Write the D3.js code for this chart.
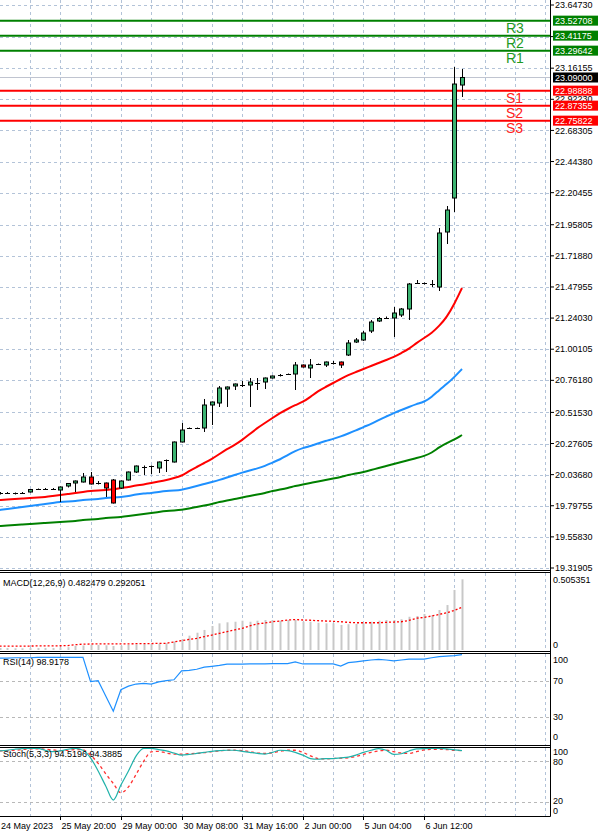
<!DOCTYPE html>
<html><head><meta charset="utf-8">
<script src="https://cdn.jsdelivr.net/npm/d3@7"></script>
<style>html,body{margin:0;padding:0;background:#fff;} svg{display:block;font-family:"Liberation Sans",Arial,sans-serif;}</style>
</head><body><svg id="c" width="600" height="838"></svg>
<script>
// ---- data ----
const opens=[19.8918,19.8956,19.8918,19.8956,19.9033,19.9225,19.9264,19.9264,19.9187,19.9494,19.9725,19.9802,20.0186,19.9687,19.9725,19.9956,19.9341,19.9956,20.0570,20.1032,20.0993,20.0878,20.1455,20.1339,20.2877,20.3915,20.3953,20.3953,20.5721,20.5875,20.6952,20.7182,20.7336,20.7259,20.7412,20.7489,20.7797,20.7951,20.8066,20.8104,20.8796,20.8566,20.8835,20.8796,20.8950,20.9027,20.9565,21.0565,21.0718,21.1410,21.2179,21.2410,21.2410,21.2640,21.3102,21.5062,21.5023,21.5100,21.4793,21.9021,22.1634,23.0321];
const highs=[19.9033,19.9033,19.8995,19.9033,19.9264,19.9302,19.9341,19.9341,19.9456,19.9725,19.9917,20.0494,20.0570,19.9879,19.9763,20.0032,19.9917,20.0609,20.1070,20.1070,20.1070,20.1378,20.1532,20.2915,20.4337,20.3992,20.3992,20.6183,20.5990,20.7182,20.7144,20.7374,20.7566,20.7797,20.7797,20.7835,20.7989,20.8104,20.8143,20.9027,20.8835,20.9257,20.8912,20.9065,20.9104,20.9065,21.0718,21.0872,21.1410,21.2256,21.2486,21.2525,21.3255,21.3178,21.5100,21.5331,21.5139,21.5331,21.9328,22.1020,23.1705,23.1552];
const lows=[19.8841,19.8880,19.8841,19.8880,19.8995,19.9187,19.9187,19.9225,19.8264,19.9379,19.9033,19.9763,19.9610,19.9610,19.8649,19.8149,19.9264,19.9917,20.0494,20.0340,20.0416,20.0494,20.0570,20.1301,20.2838,20.3876,20.3915,20.3646,20.4184,20.5568,20.5568,20.6874,20.7105,20.5568,20.6874,20.6952,20.7759,20.7912,20.8027,20.6874,20.8604,20.7797,20.8796,20.8642,20.8835,20.8566,20.9488,21.0488,21.0641,21.1256,21.2102,21.2333,21.0949,21.2486,21.2256,21.5023,21.4985,21.4793,21.4485,21.8098,22.0558,22.9399];
const closes=[19.8956,19.8918,19.8956,19.8956,19.9225,19.9264,19.9264,19.9302,19.9418,19.9687,19.9879,20.0186,19.9648,19.9725,19.9341,19.8188,19.9879,20.0570,20.1032,20.0993,20.1032,20.1339,20.1493,20.2877,20.3799,20.3953,20.3953,20.5721,20.5952,20.7029,20.7105,20.7336,20.7297,20.7489,20.7412,20.7797,20.7951,20.8066,20.8104,20.8796,20.8642,20.8796,20.8873,20.9027,20.8950,20.8796,21.0488,21.0718,21.1256,21.2102,21.2371,21.2448,21.2794,21.3102,21.5023,21.5100,21.5100,21.5062,21.8944,22.0712,23.0398,23.0900];
const maRed=[19.8418,19.8457,19.8495,19.8533,19.8572,19.8610,19.8649,19.8726,19.8802,19.8879,19.8956,19.9033,19.9110,19.9148,19.9187,19.9225,19.9341,19.9418,19.9533,19.9610,19.9725,19.9840,19.9956,20.0109,20.0263,20.0648,20.0955,20.1263,20.1570,20.1954,20.2339,20.2646,20.3031,20.3492,20.3953,20.4338,20.4722,20.5106,20.5414,20.5721,20.5952,20.6336,20.6798,20.7105,20.7413,20.7720,20.8028,20.8258,20.8489,20.8720,20.8950,20.9181,20.9411,20.9719,21.0026,21.0488,21.0872,21.1256,21.1795,21.2486,21.3486,21.4716];
const maBlue=[19.7649,19.7726,19.7803,19.7880,19.7957,19.8034,19.8111,19.8187,19.8264,19.8303,19.8341,19.8418,19.8457,19.8495,19.8572,19.8610,19.8649,19.8726,19.8841,19.8918,19.8956,19.9033,19.9110,19.9148,19.9187,19.9341,19.9494,19.9648,19.9802,19.9956,20.0148,20.0340,20.0532,20.0686,20.0840,20.1032,20.1301,20.1532,20.1878,20.2185,20.2416,20.2569,20.2762,20.2954,20.3108,20.3300,20.3530,20.3761,20.4030,20.4261,20.4568,20.4837,20.5106,20.5337,20.5568,20.5798,20.5952,20.6336,20.6874,20.7336,20.7874,20.8489];
const maGreen=[19.6419,19.6458,19.6496,19.6535,19.6573,19.6611,19.6650,19.6688,19.6727,19.6765,19.6804,19.6881,19.6919,19.6957,19.7034,19.7073,19.7111,19.7188,19.7265,19.7342,19.7419,19.7496,19.7572,19.7611,19.7649,19.7765,19.7880,19.7995,19.8111,19.8264,19.8380,19.8495,19.8610,19.8726,19.8841,19.8956,19.9110,19.9225,19.9341,19.9494,19.9610,19.9725,19.9840,19.9956,20.0071,20.0186,20.0340,20.0455,20.0571,20.0724,20.0878,20.1032,20.1186,20.1339,20.1493,20.1647,20.1801,20.2031,20.2493,20.2800,20.3069,20.3415];
const macdMain=[0.014,0.014,0.012,0.012,0.014,0.014,0.014,0.014,0.017,0.019,0.029,0.031,0.036,0.034,0.032,0.027,0.029,0.034,0.038,0.040,0.040,0.043,0.046,0.058,0.073,0.098,0.118,0.137,0.164,0.182,0.189,0.193,0.200,0.193,0.200,0.205,0.205,0.200,0.205,0.205,0.193,0.193,0.186,0.182,0.182,0.171,0.176,0.178,0.182,0.193,0.200,0.205,0.205,0.210,0.227,0.232,0.246,0.239,0.273,0.307,0.410,0.482479];
const macdSignal=[0.027,0.027,0.027,0.027,0.027,0.028,0.028,0.028,0.029,0.030,0.036,0.040,0.041,0.042,0.042,0.042,0.042,0.042,0.043,0.043,0.044,0.045,0.046,0.055,0.064,0.072,0.080,0.091,0.102,0.114,0.125,0.137,0.148,0.164,0.178,0.184,0.193,0.198,0.205,0.208,0.205,0.203,0.200,0.198,0.196,0.193,0.189,0.186,0.186,0.186,0.186,0.189,0.191,0.193,0.202,0.217,0.223,0.232,0.243,0.255,0.270,0.292051];
const rsi=[95,95,95.5,95.5,95.5,96,96,96,96,96,96,96,69,70,53,36,60,64,66.3,67,66.3,68.6,70,71,81,81.5,82.7,85,86,87,88.5,88.5,88.5,88.8,88.8,88.8,89,89,89,91,88.6,88.6,88.6,88.6,88.6,86.3,90,91,92,93,93.8,93,92,93,94,94,94,95.5,96.7,97.3,97.8,98.9178];
const stochMain=[94,95,96.5,97.5,97.7,97.7,95,93,94,96.5,97.7,95,84,65,43.4,23,44.7,65,86.6,97.7,97.7,96,94,91,88,89,90.5,92,93.5,94.5,95,95,93.5,92,90.5,89.5,92,95,94.5,92,88,83,82,83,83,84,85,88,92,95,97.5,95,89,90,94,97,97.5,97.7,97.7,97,95.5,94.5196];
const stochSignal=[94,94.5,95,96,97,97,96.5,95.5,94.5,95,96,95.5,88,76,61,47,33.6,42,60,79,92.8,93.5,91,89.5,89.5,90,90.5,91.5,93,94,95,95,94.5,93,91,90.5,91.5,93.5,95,95,92,87,83,82.5,83,83.5,84,86,89,92,94,95,93,91,90.5,93,95.5,96.3,96.5,96,95,94.3885];
const priceTicks=[23.64730,23.40440,23.16155,22.92230,22.68305,22.44380,22.20455,21.95805,21.71880,21.47955,21.24030,21.00105,20.76180,20.51530,20.27605,20.03680,19.79755,19.55830,19.31905];
const pivotNames=["R3","R2","R1","S1","S2","S3"];
const pivotValues=[23.52708,23.41175,23.29642,22.98888,22.87355,22.75822];
const lastPrice=23.09000;
const timeLabels=["24 May 2023","25 May 20:00","29 May 00:00","30 May 08:00","31 May 16:00","2 Jun 00:00","5 Jun 04:00","6 Jun 12:00"];
const timeLabelBars=[0,8,16,24,32,40,48,56];
const macdLabel="MACD(12,26,9) 0.482479 0.292051";
const rsiLabel="RSI(14) 98.9178";
const stochLabel="Stoch(5,3,3) 94.5196 94.3885";

// ---- drawing ----
const svg=d3.select("#c");
svg.append("rect").attr("width",600).attr("height",838).attr("fill","#fff");
const AX=550;
const idx=d3.range(closes.length);
const x=d3.scaleLinear().domain([0,61]).range([-0.4,462]);
const yP=d3.scaleLinear().domain([19.31905,23.64730]).range([568,5]);
const yM=d3.scaleLinear().domain([0,0.505351]).range([650,576]);
const yR=d3.scaleLinear().domain([0,100]).range([743.7,653.7]);
const yS=d3.scaleLinear().domain([0,100]).range([816,746.8]);
const gridCol="#b3c3d8";

// label boxes hide these axis labels (grid line kept)
const hiddenByBox=v=>pivotValues.some(p=>Math.abs(yP(p)-yP(v))<3);

// vertical grid
const vg=svg.append("g");
d3.range(0,80,4).filter(k=>x(k)>0&&x(k)<548).forEach(k=>{
  const xx=Math.round(x(k))+0.5;
  [[0,570],[573,651],[654,745],[748,816]].forEach(([a,b])=>{
    vg.append("line").attr("x1",xx).attr("x2",xx).attr("y1",a).attr("y2",b)
      .attr("stroke",gridCol).attr("stroke-dasharray","3,3");
  });
});
// horizontal grid main
priceTicks.forEach(v=>{
  const yy=Math.round(yP(v))+0.5;
  svg.append("line").attr("x1",0).attr("x2",AX).attr("y1",yy).attr("y2",yy)
    .attr("stroke",gridCol).attr("stroke-dasharray","3,3");
});
[70,30].forEach(v=>{const yy=Math.round(yR(v))+0.5;
  svg.append("line").attr("x1",0).attr("x2",AX).attr("y1",yy).attr("y2",yy).attr("stroke","#b8b8b8").attr("stroke-dasharray","3,3");});
[80,20].forEach(v=>{const yy=Math.round(yS(v))+0.5;
  svg.append("line").attr("x1",0).attr("x2",AX).attr("y1",yy).attr("y2",yy).attr("stroke","#b8b8b8").attr("stroke-dasharray","3,3");});

// last price line
svg.append("line").attr("x1",0).attr("x2",AX).attr("y1",yP(lastPrice)).attr("y2",yP(lastPrice)).attr("stroke","#c0c4d0").attr("stroke-width",1);

// moving averages
[[maGreen,"#008000"],[maBlue,"#1e90ff"],[maRed,"#ff0000"]].forEach(([arr,c])=>{
  svg.append("path").datum(idx).attr("d",d3.line().curve(d3.curveBasis).x(i=>x(i)).y(i=>yP(arr[i])))
    .attr("fill","none").attr("stroke",c).attr("stroke-width",2);
});

// pivot lines
pivotValues.forEach((v,i)=>{
  const isR=pivotNames[i][0]==="R";
  const c=isR?"#008000":"#ff0000";
  svg.append("line").attr("x1",0).attr("x2",AX).attr("y1",yP(v)).attr("y2",yP(v)).attr("stroke",c).attr("stroke-width",2);
  svg.append("text").attr("x",506).attr("y",yP(v)+12).attr("font-size",14).attr("fill",isR?"#1f9a1f":"#ff2020").text(pivotNames[i]);
});

// candles
const cg=svg.append("g");
idx.forEach(i=>{
  const cx=Math.round(x(i))+0.5;
  cg.append("line").attr("x1",cx).attr("x2",cx).attr("y1",yP(highs[i])).attr("y2",yP(lows[i])).attr("stroke","#000");
  const yo=yP(opens[i]), yc=yP(closes[i]);
  const top=Math.min(yo,yc), h=Math.abs(yo-yc);
  if(h<1.5){
    cg.append("line").attr("x1",cx-2.5).attr("x2",cx+2.5).attr("y1",Math.round(yc)+0.5).attr("y2",Math.round(yc)+0.5).attr("stroke","#000");
  } else {
    cg.append("rect").attr("x",cx-2).attr("y",top).attr("width",4).attr("height",h)
      .attr("fill",closes[i]>=opens[i]?"#3cb371":"#ff0000").attr("stroke","#000").attr("stroke-width",1);
  }
});

// MACD
const mg=svg.append("g");
idx.forEach(i=>{
  const cx=Math.round(x(i))+0.5;
  mg.append("line").attr("x1",cx).attr("x2",cx).attr("y1",yM(0)).attr("y2",yM(macdMain[i])).attr("stroke","#c8c8c8").attr("stroke-width",2);
});
svg.append("path").datum(idx).attr("d",d3.line().x(i=>x(i)).y(i=>yM(macdSignal[i]))).attr("fill","none").attr("stroke","#ff0000").attr("stroke-width",1.3).attr("stroke-dasharray","2,2");
// RSI
svg.append("path").datum(idx).attr("d",d3.line().x(i=>x(i)).y(i=>yR(rsi[i]))).attr("fill","none").attr("stroke","#1e90ff").attr("stroke-width",1.2);
// Stoch
svg.append("path").datum(idx).attr("d",d3.line().curve(d3.curveMonotoneX).x(i=>x(i)).y(i=>yS(stochSignal[i]))).attr("fill","none").attr("stroke","#ff3030").attr("stroke-width",1.3).attr("stroke-dasharray","3,3");
svg.append("path").datum(idx).attr("d",d3.line().curve(d3.curveMonotoneX).x(i=>x(i)).y(i=>yS(stochMain[i]))).attr("fill","none").attr("stroke","#20b2aa").attr("stroke-width",1.2);

// panel borders
const bl=(x1,y1,x2,y2)=>svg.append("line").attr("x1",x1).attr("x2",x2).attr("y1",y1).attr("y2",y2).attr("stroke","#000").attr("stroke-width",1);
[570.5,572.5,651.5,653.5,745.5,747.5,816.5].forEach(yy=>bl(0,yy,AX+0.5,yy));
bl(AX+0.5,0,AX+0.5,816.5);

// price axis
const fs=9;
priceTicks.forEach(v=>{
  bl(AX,yP(v),AX+4,yP(v));
  if(hiddenByBox(v)) return;
  svg.append("text").attr("x",AX+5).attr("y",yP(v)).attr("dy","0.35em").attr("font-size",fs).attr("fill","#000").text(v.toFixed(5));
});
// pivot boxes
pivotValues.forEach((v,i)=>{
  const isR=pivotNames[i][0]==="R";
  svg.append("rect").attr("x",AX+3).attr("y",yP(v)-5).attr("width",45).attr("height",10).attr("fill",isR?"#008000":"#ff0000");
  svg.append("text").attr("x",AX+5).attr("y",yP(v)).attr("dy","0.35em").attr("font-size",fs).attr("fill","#fff").text(v.toFixed(5));
});
svg.append("rect").attr("x",AX+3).attr("y",yP(lastPrice)-5).attr("width",45).attr("height",10).attr("fill","#000");
svg.append("text").attr("x",AX+5).attr("y",yP(lastPrice)).attr("dy","0.35em").attr("font-size",fs).attr("fill","#fff").text(lastPrice.toFixed(5));

// sub-panel axis labels
const subLab=(t,yy)=>svg.append("text").attr("x",AX+3).attr("y",yy).attr("dy","0.35em").attr("font-size",fs).attr("fill","#000").text(t);
subLab("0.505351",580); subLab("0",645);
subLab("100",660); subLab("70",yR(70)); subLab("30",yR(30)); subLab("0",737);
subLab("100",752); subLab("80",yS(80)+1); subLab("20",yS(20)-1); subLab("0",811);

// indicator names
const nm=(t,yy)=>svg.append("text").attr("x",3).attr("y",yy).attr("dy","0.35em").attr("font-size",fs).attr("fill","#000").text(t);
nm(macdLabel,583); nm(rsiLabel,662); nm(stochLabel,754);

// time axis
timeLabels.forEach((t,i)=>{
  const xx=i===0?0:Math.round(x(timeLabelBars[i]))+0.5;
  if(i>0) bl(xx,816,xx,820);
  svg.append("text").attr("x",i===0?1:xx+1).attr("y",829).attr("font-size",fs).attr("fill","#000").text(t);
});
</script></body></html>
